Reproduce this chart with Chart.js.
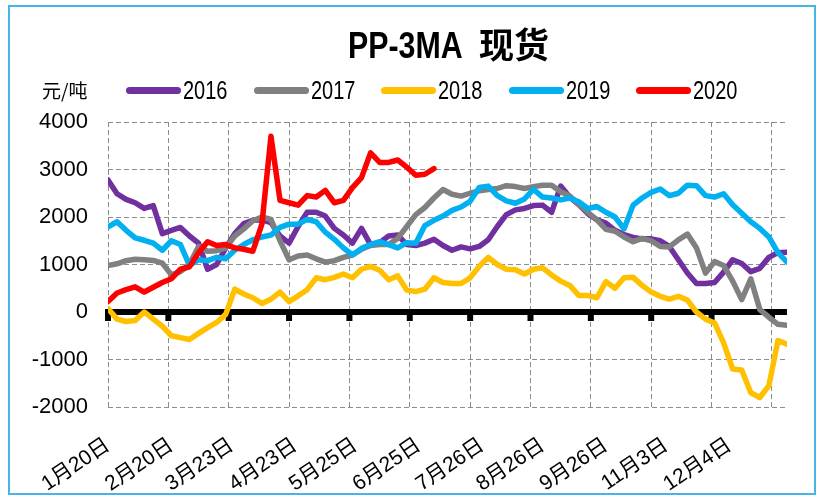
<!DOCTYPE html>
<html lang="zh-CN">
<head>
<meta charset="utf-8">
<title>PP-3MA 现货</title>
<script src="https://cdn.jsdelivr.net/npm/chart.js@4.4.1/dist/chart.umd.min.js"></script>
<style>
  html, body { margin: 0; padding: 0; background: #fff; }
  #wrap { position: relative; width: 821px; height: 499px; overflow: hidden; }
  #frame { position: absolute; left: 8px; top: 5px; width: 804px; height: 486px; border: 2px solid #45b5e8; }
  #c { position: absolute; left: 0; top: 0; }
  #title {
    position: absolute; left: 348px; top: 17px; white-space: nowrap; color: #000;
    font: bold 37px "Liberation Sans", "Noto Sans CJK SC", sans-serif; line-height: 42px;
  }
  #title .n { display: inline-block; transform: scaleX(0.82); transform-origin: left center; width: 117px; }
  #title .cn { font: bold 35px "Noto Sans CJK SC", sans-serif; margin-left: 14px; }
  #unit { position: absolute; left: 42px; top: 78px; font: 19px "Noto Sans CJK SC", sans-serif; line-height: 24px; }
  .lg { position: absolute; top: 76px; height: 30px; }
  .lg i { position: absolute; left: 0; top: 11px; width: 55px; height: 7px; border-radius: 4px; }
  .lg span {
    position: absolute; left: 57px; top: 0; line-height: 30px; white-space: nowrap;
    font: 25px "Liberation Sans", sans-serif; color: #000;
    transform: scaleX(0.8); transform-origin: left center;
  }
</style>
</head>
<body>
<div id="wrap">
  <div id="frame"></div>
  <canvas id="c" width="821" height="499"></canvas>
  <div id="title"><span class="n">PP-3MA</span><span class="cn">现货</span></div>
  <div id="unit">元/吨</div>
  <div id="legend"></div>
</div>
<script>
// 交易日序号，每 3 个交易日取一个点
const STEP = 3;

const years = ['2016', '2017', '2018', '2019', '2020'];
const colors = ['#7030a0', '#808080', '#ffc000', '#00b0f0', '#ff0000'];

const s2016 = [2780, 2490, 2370, 2300, 2180, 2240, 1650, 1720, 1780, 1600,
  1450, 900, 1000, 1350, 1650, 1860, 1930, 1940, 1880, 1600,
  1450, 1800, 2100, 2100, 2020, 1760, 1620, 1450, 1760, 1420,
  1460, 1600, 1620, 1420, 1400, 1450, 1530, 1400, 1300, 1370,
  1330, 1380, 1520, 1800, 2050, 2150, 2180, 2240, 2250, 2100,
  2650, 2420, 2260, 2070, 1940, 1870, 1720, 1630, 1570, 1540,
  1540, 1500, 1380, 1100, 820, 600, 600, 620, 840, 1100,
  1020, 850, 920, 1150, 1250, 1260];

const s2017 = [980, 1015, 1080, 1110, 1100, 1085, 1030, 780, 850, 1000,
  1380, 1280, 1290, 1350, 1600, 1750, 1920, 2000, 1950, 1500,
  1100, 1180, 1200, 1120, 1050, 1080, 1150, 1200, 1320, 1400,
  1420, 1420, 1550, 1800, 2050, 2200, 2400, 2580, 2480, 2440,
  2500, 2550, 2580, 2600, 2660, 2640, 2600, 2640, 2670, 2670,
  2530, 2440, 2270, 2100, 1940, 1740, 1700, 1580, 1480, 1550,
  1500, 1380, 1370, 1520, 1640, 1350, 820, 1060, 980, 650,
  260, 700, 50, -110, -260, -280];

const s2018 = [70, -150, -200, -180, 0, -150, -300, -500, -540, -580,
  -450, -330, -220, -50, 480, 380, 300, 180, 270, 420,
  220, 340, 470, 720, 680, 730, 800, 720, 900, 960,
  880, 680, 760, 460, 430, 480, 720, 620, 600, 600,
  720, 960, 1150, 1000, 900, 890, 800, 900, 930, 780,
  650, 560, 350, 350, 300, 640, 500, 720, 730, 560,
  420, 330, 270, 330, 250, 0, -150, -230, -650, -1200,
  -1220, -1700, -1800, -1550, -600, -680];

const s2019 = [1790, 1900, 1720, 1560, 1510, 1450, 1300, 1500, 1420, 980,
  1100, 1080, 1150, 1120, 1300, 1420, 1520, 1580, 1620, 1780,
  1850, 1850, 1950, 1900, 1680, 1530, 1350, 1200, 1340, 1420,
  1480, 1420, 1350, 1460, 1450, 1820, 1930, 2020, 2140, 2210,
  2330, 2620, 2650, 2450, 2340, 2290, 2380, 2580, 2420, 2400,
  2360, 2400, 2320, 2180, 2220, 2100, 2000, 1750, 2250, 2400,
  2520, 2590, 2450, 2500, 2670, 2660, 2450, 2420, 2490, 2260,
  2080, 1900, 1760, 1580, 1250, 1050];

const s2020 = [220, 400, 470, 530, 420, 520, 620, 700, 900, 950,
  1250, 1480, 1400, 1420, 1350, 1320, 1280, 1850, 3700, 2350,
  2300, 2250, 2450, 2420, 2560, 2300, 2350, 2620, 2830, 3350,
  3150, 3150, 3200, 3050, 2880, 2900, 3020];

const series = [s2016, s2017, s2018, s2019, s2020];

// 网格线所在交易日、日期标签及其所在交易日
const gridDays = [0, 20, 40, 60, 80, 100, 120, 140, 160, 180, 200, 220];
const dateLabels = ['1月20日', '2月20日', '3月23日', '4月23日', '5月25日', '6月25日',
  '7月26日', '8月26日', '9月26日', '11月3日', '12月4日'];
const labelDays = [0, 21, 41, 62, 82, 103, 124, 144, 165, 185, 206];

const yTicks = [-2000, -1000, 0, 1000, 2000, 3000, 4000];
const LAST_DAY = 225;

// 图例
const legendLeft = [126, 254, 381, 509, 636];
const legendBox = document.getElementById('legend');
years.forEach((y, i) => {
  const d = document.createElement('div');
  d.className = 'lg';
  d.style.left = legendLeft[i] + 'px';
  d.innerHTML = '<i style="background:' + colors[i] + '"></i><span>' + y + '</span>';
  legendBox.appendChild(d);
});

const gridColor = '#8c8c8c';

// 零轴：粗黑线加刻度
const zeroAxis = {
  id: 'zeroAxis',
  beforeDatasetsDraw(chart) {
    const { ctx, chartArea, scales } = chart;
    const y0 = scales.y.getPixelForValue(0);
    ctx.save();
    ctx.fillStyle = '#000';
    ctx.fillRect(chartArea.left - 3, y0 - 3, chartArea.right - chartArea.left + 3, 6);
    gridDays.forEach(d => {
      const x = scales.x.getPixelForValue(d);
      ctx.fillRect(x - 3, y0, 6, 9);
    });
    ctx.restore();
  }
};

new Chart(document.getElementById('c'), {
  type: 'line',
  data: {
    datasets: series.map((vals, i) => ({
      label: years[i],
      data: vals.map((v, k) => ({ x: k * STEP, y: v })),
      borderColor: colors[i],
      backgroundColor: colors[i],
      order: years.length - i
    }))
  },
  options: {
    responsive: false,
    animation: false,
    devicePixelRatio: 1,
    layout: { padding: { top: 122, right: 34, left: 0, bottom: 0 } },
    plugins: {
      legend: { display: false },
      title: { display: false },
      tooltip: { enabled: false }
    },
    elements: {
      point: { radius: 0 },
      line: { borderWidth: 5.5, tension: 0, borderJoinStyle: 'round', borderCapStyle: 'round' }
    },
    scales: {
      x: {
        type: 'linear', min: 0, max: LAST_DAY,
        afterBuildTicks: s => { s.ticks = gridDays.map(v => ({ value: v })); },
        ticks: { display: false },
        grid: { color: gridColor, lineWidth: 1, drawTicks: false },
        border: { display: false, dash: [5, 3] },
        afterFit: s => { s.height = 0; s.paddingLeft = 0; s.paddingRight = 0; }
      },
      xl: {
        axis: 'x', type: 'linear', position: 'bottom', min: 0, max: LAST_DAY,
        afterBuildTicks: s => { s.ticks = labelDays.map(v => ({ value: v })); },
        ticks: {
          autoSkip: false, minRotation: 34, maxRotation: 34, padding: 26,
          color: '#000',
          font: { family: '"Liberation Sans", "Noto Sans CJK SC", sans-serif', size: 21 },
          callback: (v, i) => dateLabels[i]
        },
        grid: { display: false, drawTicks: false },
        border: { display: false },
        afterFit: s => { s.height = 92; s.paddingLeft = 0; s.paddingRight = 0; }
      },
      y: {
        min: -2000, max: 4000,
        afterBuildTicks: s => { s.ticks = yTicks.map(v => ({ value: v })); },
        ticks: {
          padding: 20, color: '#000',
          font: { family: '"Liberation Sans", sans-serif', size: 22 },
          callback: v => String(v)
        },
        grid: {
          color: c => (c.tick && c.tick.value === 0 ? 'rgba(0,0,0,0)' : gridColor),
          lineWidth: 1, drawTicks: false
        },
        border: { display: false, dash: [5, 3] },
        afterFit: s => { s.width = 108; s.paddingTop = 0; s.paddingBottom = 0; }
      }
    }
  },
  plugins: [zeroAxis]
});
</script>
</body>
</html>
